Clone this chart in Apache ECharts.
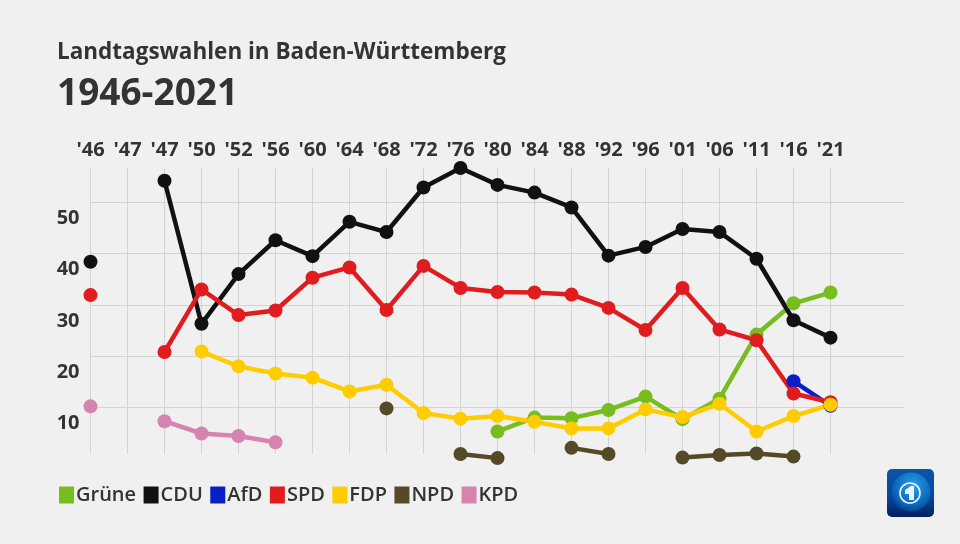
<!DOCTYPE html>
<html>
<head>
<meta charset="utf-8">
<style>html,body{margin:0;background:#f0f0f0}#chart{width:960px;height:544px}</style>
<script src="https://cdn.jsdelivr.net/npm/echarts@6/dist/echarts.min.js"></script>
</head>
<body>
<div id="chart"></div>
<script>
var years = ["'46","'47","'47","'50","'52","'56","'60","'64","'68","'72","'76","'80","'84","'88","'92","'96","'01","'06","'11","'16","'21"];
var yTicks = [10,20,30,40,50];
var gruene = [null,null,null,null,null,null,null,null,null,null,null,5.3,8.0,7.9,9.5,12.1,7.7,11.7,24.2,30.3,32.4];
var cdu = [38.4,null,54.2,26.3,36.0,42.6,39.5,46.2,44.2,52.9,56.7,53.4,51.9,49.0,39.6,41.3,44.8,44.2,39.0,27.0,23.6];
var afd = [null,null,null,null,null,null,null,null,null,null,null,null,null,null,null,null,null,null,null,15.1,10.3];
var spd = [31.9,null,20.8,33.0,28.0,28.9,35.3,37.3,29.0,37.6,33.3,32.5,32.4,32.0,29.4,25.1,33.3,25.2,23.1,12.7,11.0];
var fdp = [null,null,null,20.9,18.0,16.6,15.8,13.1,14.4,8.9,7.8,8.3,7.2,5.9,5.9,9.6,8.1,10.7,5.3,8.3,10.5];
var npd = [null,null,null,null,null,null,null,null,9.8,null,0.9,0.1,null,2.1,0.9,null,0.2,0.7,1.0,0.4,null];
var kpd = [10.2,null,7.3,4.9,4.4,3.2,null,null,null,null,null,null,null,null,null,null,null,null,null,null,null];

var partyNames = ['Grüne','CDU','AfD','SPD','FDP','NPD','KPD'];
var partyValues = [gruene,cdu,afd,spd,fdp,npd,kpd];
var partyColors = ['#76bd1d','#111111','#0a1ec8','#e01c1f','#ffcc00','#554a27','#d783b0'];

var fontName = '"Open Sans"';
var chart = echarts.init(document.getElementById('chart'));

var series = partyNames.map(function (name, i) {
    return {
        name: name,
        type: 'line',
        data: partyValues[i],
        clip: false,
        symbol: 'circle',
        symbolSize: 14,
        showAllSymbol: true,
        connectNulls: false,
        animation: false,
        itemStyle: {color: partyColors[i]},
        lineStyle: {color: partyColors[i], width: 4.5}
    };
});

chart.setOption({
    backgroundColor: '#f0f0f0',
    animation: false,
    color: partyColors,
    textStyle: {fontFamily: fontName},
    title: [
        {text: 'Landtagswahlen in Baden-Württemberg', left: 52, top: 36,
            textStyle: {fontSize: 22.5, fontWeight: 700, color: '#333333', fontFamily: fontName}},
        {text: '1946-2021', left: 52, top: 71,
            textStyle: {fontSize: 37, fontWeight: 700, color: '#333333', fontFamily: fontName}}
    ],
    legend: {
        left: 54,
        top: 480,
        itemWidth: 15,
        itemHeight: 17,
        itemGap: 7.5,
        icon: 'rect',
        textStyle: {fontSize: 20, fontWeight: 600, color: '#333333', fontFamily: fontName, padding: [0,0,0,-3]},
        data: partyNames
    },
    grid: {left: 90.5, top: 168.5, width: 814, height: 285},
    xAxis: {
        type: 'category',
        position: 'top',
        boundaryGap: false,
        data: years.concat(['','']),
        axisLine: {show: false},
        axisTick: {show: false},
        axisLabel: {
            interval: 0, margin: 8,
            fontSize: 20, fontWeight: 700, color: '#333333', fontFamily: fontName
        },
        splitLine: {
            show: true,
            interval: function (index) { return index < years.length; },
            lineStyle: {color: '#d3d3d3', width: 1}
        }
    },
    yAxis: {
        type: 'value',
        min: 1,
        max: 56.6,
        axisLine: {show: false},
        axisTick: {show: false, customValues: yTicks},
        axisLabel: {
            customValues: yTicks,
            margin: 11,
            verticalAlign: 'top',
            padding: [6,0,0,0],
            fontSize: 20, fontWeight: 700, color: '#333333', fontFamily: fontName
        },
        splitLine: {show: true, lineStyle: {color: '#d3d3d3', width: 1}}
    },
    graphic: [{
        type: 'group',
        left: 887,
        top: 469,
        children: [
            {type: 'rect', shape: {x: 0, y: 0, width: 47, height: 48, r: 5},
                style: {fill: new echarts.graphic.LinearGradient(0,0,0,1,[{offset:0,color:'#0a55a8'},{offset:0.6,color:'#07479a'},{offset:1,color:'#021f5e'}])}},
            {type: 'circle', shape: {cx: 24, cy: 23, r: 19.5},
                style: {fill: new echarts.graphic.RadialGradient(0.55,0.35,0.7,[{offset:0,color:'#2d9fe6'},{offset:0.7,color:'#0a66bb'},{offset:1,color:'#043a80'}])}},
            {type: 'circle', shape: {cx: 23, cy: 24, r: 10},
                style: {fill: 'none', stroke: '#e8f4fb', lineWidth: 1.6}},
            {type: 'polygon', shape: {points: [[24,17],[27,17],[27,31],[22,31],[22,25],[18,25],[18,21]]},
                style: {fill: '#e8f4fb'}}
        ]
    }],
    series: series
});
</script>
</body>
</html>
